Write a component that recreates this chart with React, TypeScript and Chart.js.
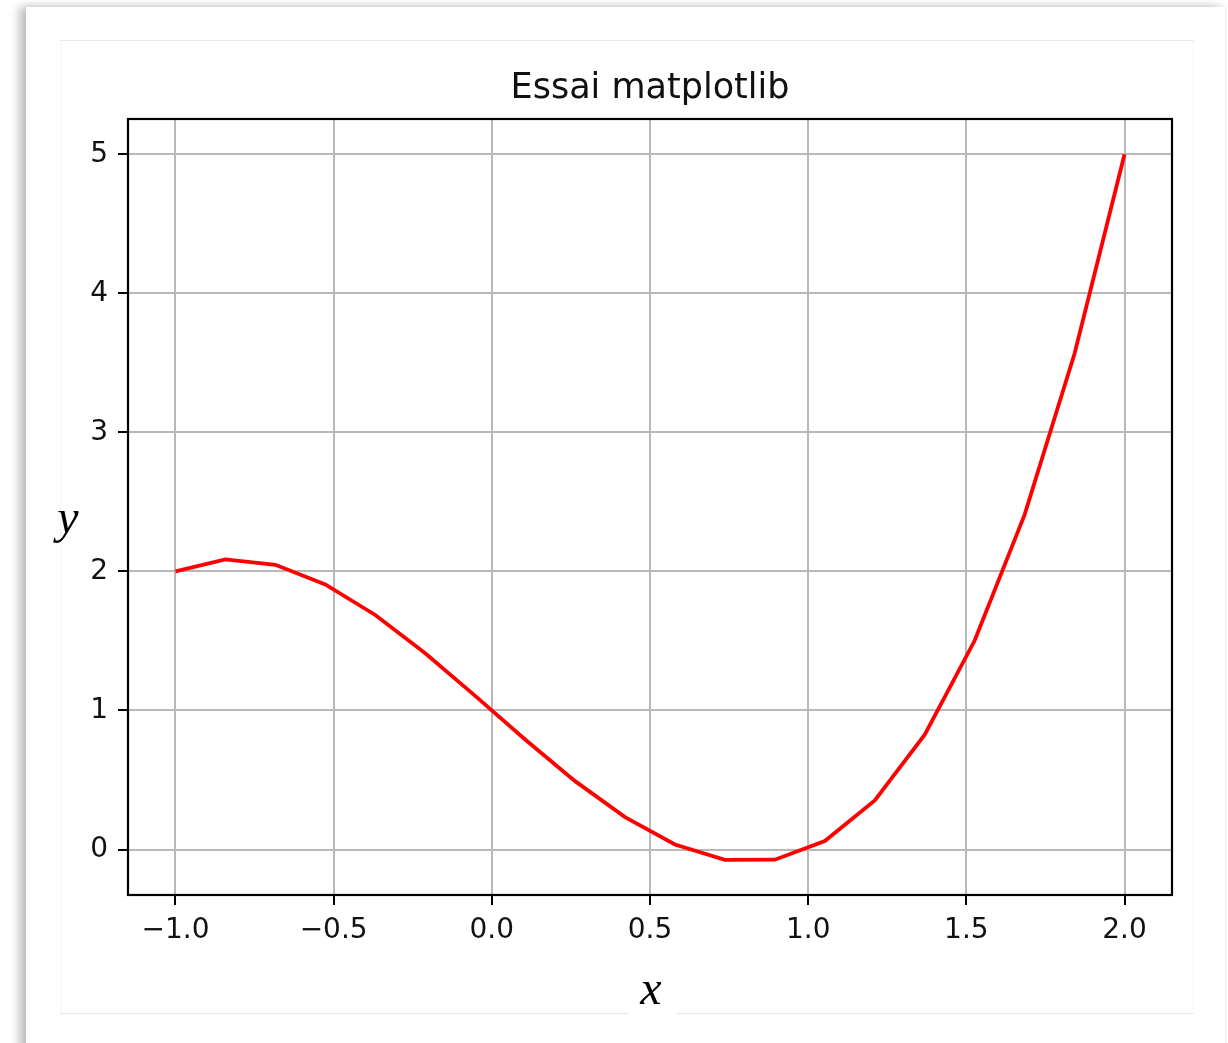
import React, { useEffect, useRef } from "react";
import { Chart, registerables } from "chart.js";

Chart.register(...registerables);

const xValues = [
  -1.0, -0.8421, -0.6842, -0.5263, -0.3684, -0.2105, -0.0526, 0.1053, 0.2632, 0.4211,
  0.5789, 0.7368, 0.8947, 1.0526, 1.2105, 1.3684, 1.5263, 1.6842, 1.8421, 2.0,
];
const yValues = [
  2.0, 2.087, 2.048, 1.907, 1.687, 1.412, 1.105, 0.791, 0.492, 0.233,
  0.036, -0.074, -0.073, 0.061, 0.353, 0.826, 1.503, 2.409, 3.567, 5.0,
];
const xTicks = [-1.0, -0.5, 0.0, 0.5, 1.0, 1.5, 2.0];
const xTickLabels = ["\u22121.0", "\u22120.5", "0.0", "0.5", "1.0", "1.5", "2.0"];
const yTicks = [0, 1, 2, 3, 4, 5];
const yTickLabels = ["0", "1", "2", "3", "4", "5"];
const titleText = "Essai matplotlib";
const xLabel = "x";
const yLabel = "y";

const W = 1228;
const H = 1043;

export default function App() {
  const ref = useRef<HTMLCanvasElement | null>(null);

  useEffect(() => {
    const canvas = ref.current;
    if (!canvas) return;

    const decor = {
      id: "decor",
      afterDraw(chart: any) {
        const { ctx, chartArea } = chart;
        const { left, top, right, bottom } = chartArea;
        ctx.save();
        // frame
        ctx.strokeStyle = "#000";
        ctx.lineWidth = 2.2;
        ctx.strokeRect(left, top, right - left, bottom - top);
        // title
        ctx.fillStyle = "#111";
        ctx.font = "35px 'DejaVu Sans'";
        ctx.textAlign = "center";
        ctx.textBaseline = "alphabetic";
        ctx.fillText(titleText, (left + right) / 2, 98);
        // x label with white box
        ctx.fillStyle = "#fff";
        ctx.fillRect(629, 962, 47, 58);
        ctx.fillStyle = "#000";
        ctx.font = "italic 48px 'Liberation Serif'";
        ctx.fillText(xLabel, 651, 1004);
        // y label
        ctx.fillText(yLabel, 68, 533);
        ctx.restore();
      },
    };

    const chart = new Chart(canvas, {
      type: "line",
      data: {
        datasets: [
          {
            data: xValues.map((x, i) => ({ x, y: yValues[i] })),
            borderColor: "#ff0000",
            borderWidth: 3.8,
            pointRadius: 0,
            tension: 0,
            fill: false,
          },
        ],
      },
      options: {
        animation: false,
        responsive: false,
        devicePixelRatio: 1,
        layout: { padding: { left: 68, top: 119, right: 56, bottom: 88 } },
        plugins: {
          legend: { display: false },
          title: { display: false },
          tooltip: { enabled: false },
        },
        scales: {
          x: {
            type: "linear",
            min: -1.15,
            max: 2.15,
            afterBuildTicks: (s: any) => {
              s.ticks = xTicks.map((v) => ({ value: v }));
            },
            afterFit: (s: any) => {
              s.height = 60;
            },
            ticks: {
              autoSkip: false,
              maxRotation: 0,
              padding: 9,
              color: "#111",
              font: { family: "'DejaVu Sans'", size: 28 },
              callback: (_v: any, i: number) => xTickLabels[i],
            },
            grid: {
              color: "#b8b8b8",
              lineWidth: 2,
              drawTicks: true,
              tickLength: 10,
              tickColor: "#000",
              tickWidth: 2,
            },
            border: { display: false },
          },
          y: {
            type: "linear",
            min: -0.327,
            max: 5.254,
            afterBuildTicks: (s: any) => {
              s.ticks = yTicks.map((v) => ({ value: v }));
            },
            afterFit: (s: any) => {
              s.width = 60;
            },
            ticks: {
              autoSkip: false,
              padding: 10,
              color: "#111",
              font: { family: "'DejaVu Sans'", size: 28 },
              callback: (_v: any, i: number) => yTickLabels[i],
            },
            grid: {
              color: "#b8b8b8",
              lineWidth: 2,
              drawTicks: true,
              tickLength: 10,
              tickColor: "#000",
              tickWidth: 2,
            },
            border: { display: false },
          },
        },
      },
      plugins: [decor],
    } as any);

    return () => chart.destroy();
  }, []);

  return (
    <div
      style={{
        position: "fixed",
        left: 0,
        top: 0,
        width: W,
        height: H,
        overflow: "hidden",
        background: "#fff",
      }}
    >
      <div
        style={{
          position: "absolute",
          left: 26,
          top: 7,
          width: 1200,
          height: 1100,
          background: "#fff",
          boxShadow: "-7px 0 9px rgba(0,0,0,0.25), 0 -3px 6px rgba(0,0,0,0.03)",
          borderRight: "1px solid #efefef",
          boxSizing: "border-box",
        }}
      />
      <div
        style={{
          position: "absolute",
          left: 60,
          top: 40,
          width: 1134,
          height: 974,
          borderTop: "1px solid #e6e6e6",
          borderBottom: "1px solid #e6e6e6",
          borderLeft: "1px solid #f6f6f6",
          borderRight: "1px solid #f6f6f6",
          boxSizing: "border-box",
        }}
      />
      <canvas
        ref={ref}
        width={W}
        height={H}
        style={{ position: "absolute", left: 0, top: 0, width: W, height: H }}
      />
    </div>
  );
}
